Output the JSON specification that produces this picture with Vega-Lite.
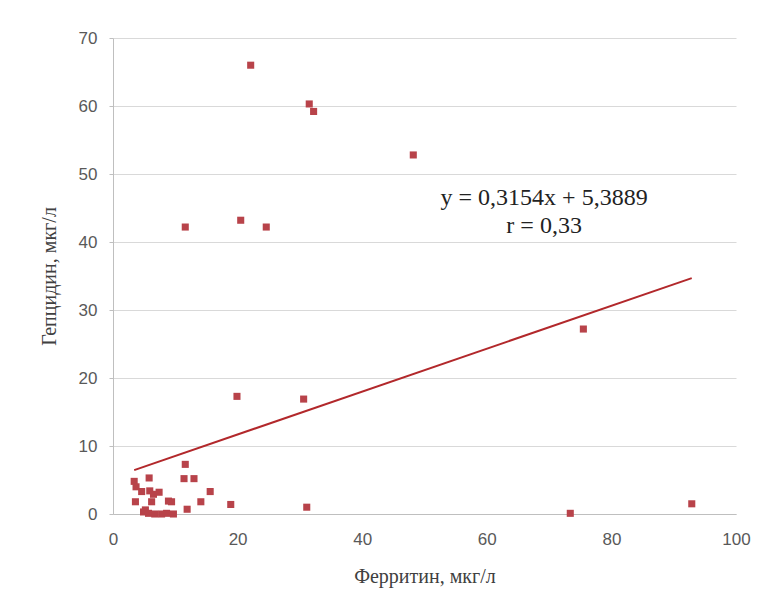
{
  "$schema": "https://vega.github.io/schema/vega-lite/v6.json",
  "autosize": {"type": "none"},
  "width": 623,
  "height": 476,
  "padding": {"left": 113, "top": 38, "right": 25, "bottom": 98},
  "background": "white",
  "config": {
    "view": {"stroke": null},
    "axis": {
      "labelFont": "Liberation Sans",
      "labelFontSize": 17,
      "labelColor": "#595959",
      "labelFlush": false,
      "titleFont": "Liberation Serif",
      "titleFontSize": 20,
      "titleFontWeight": "normal",
      "titleColor": "#404040",
      "domainColor": "#bfbfbf",
      "tickColor": "#bfbfbf",
      "gridColor": "#d9d9d9"
    }
  },
  "datasets": {
    "points": [
      {"ferritin": 22.1, "hepcidin": 66.0},
      {"ferritin": 31.5, "hepcidin": 60.3},
      {"ferritin": 32.2, "hepcidin": 59.2},
      {"ferritin": 48.2, "hepcidin": 52.8},
      {"ferritin": 20.5, "hepcidin": 43.2},
      {"ferritin": 24.6, "hepcidin": 42.2},
      {"ferritin": 11.6, "hepcidin": 42.2},
      {"ferritin": 75.5, "hepcidin": 27.2},
      {"ferritin": 73.4, "hepcidin": 0.1},
      {"ferritin": 92.9, "hepcidin": 1.5},
      {"ferritin": 19.9, "hepcidin": 17.3},
      {"ferritin": 30.6, "hepcidin": 16.9},
      {"ferritin": 18.9, "hepcidin": 1.4},
      {"ferritin": 31.1, "hepcidin": 1.0},
      {"ferritin": 11.6, "hepcidin": 7.3},
      {"ferritin": 5.8, "hepcidin": 5.3},
      {"ferritin": 11.4, "hepcidin": 5.2},
      {"ferritin": 13.0, "hepcidin": 5.2},
      {"ferritin": 3.4, "hepcidin": 4.8},
      {"ferritin": 3.7, "hepcidin": 4.0},
      {"ferritin": 4.6, "hepcidin": 3.3},
      {"ferritin": 5.9, "hepcidin": 3.4},
      {"ferritin": 7.4, "hepcidin": 3.2},
      {"ferritin": 6.5, "hepcidin": 2.9},
      {"ferritin": 15.6, "hepcidin": 3.3},
      {"ferritin": 3.6, "hepcidin": 1.8},
      {"ferritin": 6.2, "hepcidin": 1.8},
      {"ferritin": 8.9, "hepcidin": 1.9},
      {"ferritin": 9.4, "hepcidin": 1.8},
      {"ferritin": 14.1, "hepcidin": 1.8},
      {"ferritin": 11.9, "hepcidin": 0.7},
      {"ferritin": 4.9, "hepcidin": 0.3},
      {"ferritin": 5.2, "hepcidin": 0.6},
      {"ferritin": 5.7, "hepcidin": 0.1},
      {"ferritin": 6.7, "hepcidin": 0.0},
      {"ferritin": 7.8, "hepcidin": 0.0},
      {"ferritin": 8.6, "hepcidin": 0.1},
      {"ferritin": 9.7, "hepcidin": 0.0}
    ],
    "trend": [
      {"ferritin": 3.4, "hepcidin": 6.46},
      {"ferritin": 92.9, "hepcidin": 34.69}
    ],
    "labels": [
      {"ferritin": 69.2, "hepcidin": 46.4, "text": "y = 0,3154x + 5,3889"},
      {"ferritin": 69.2, "hepcidin": 42.3, "text": "r = 0,33"}
    ]
  },
  "encoding": {
    "x": {
      "field": "ferritin",
      "type": "quantitative",
      "scale": {"domain": [0, 100], "nice": false},
      "axis": {
        "title": "Ферритин, мкг/л",
        "values": [0, 20, 40, 60, 80, 100],
        "grid": false,
        "ticks": false,
        "labelPadding": 17,
        "titlePadding": 19
      }
    },
    "y": {
      "field": "hepcidin",
      "type": "quantitative",
      "scale": {"domain": [0, 70], "nice": false},
      "axis": {
        "title": "Гепцидин, мкг/л",
        "values": [0, 10, 20, 30, 40, 50, 60, 70],
        "grid": true,
        "tickSize": 4,
        "labelPadding": 12,
        "titlePadding": 19
      }
    }
  },
  "layer": [
    {
      "data": {"name": "trend"},
      "mark": {"type": "line", "color": "#b2282b", "strokeWidth": 2}
    },
    {
      "data": {"name": "points"},
      "mark": {"type": "point", "shape": "square", "filled": true, "size": 50, "color": "#b8434a", "opacity": 1}
    },
    {
      "data": {"name": "labels"},
      "mark": {"type": "text", "font": "Liberation Serif", "fontSize": 24, "color": "#222222", "align": "center", "baseline": "middle"},
      "encoding": {"text": {"field": "text"}}
    }
  ]
}
